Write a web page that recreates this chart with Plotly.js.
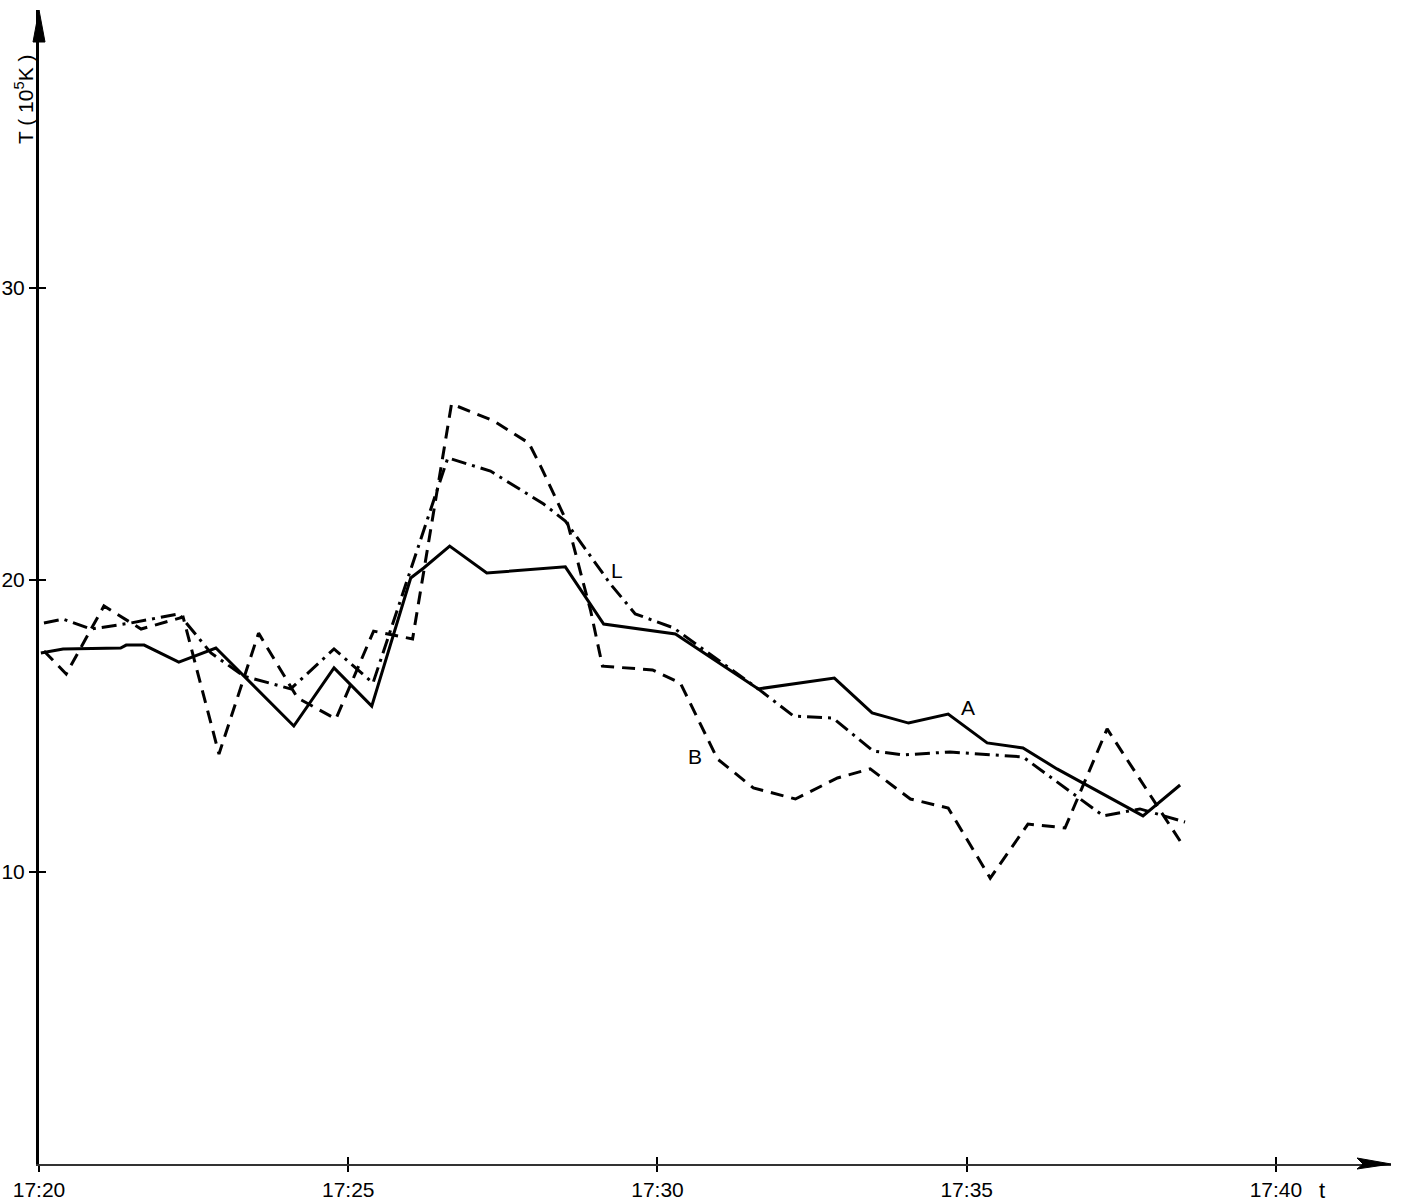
<!DOCTYPE html>
<html>
<head>
<meta charset="utf-8">
<script src="https://cdn.plot.ly/plotly-3.0.1.min.js"></script>
<style>
  html, body { margin: 0; padding: 0; background: #fff; }
  #plot { width: 1403px; height: 1204px; }
</style>
</head>
<body>
<div id="plot"></div>
<script>
// Time axis: minutes after 17:00; temperature in units of 10^5 K.

// Curve A (solid)
const timeA = [20.03, 20.39, 21.32, 21.41, 21.70, 22.26, 22.86, 24.12, 24.77, 25.38, 26.01, 26.22, 26.64, 27.24, 28.51, 29.13, 30.29, 31.63, 32.86, 33.47, 34.06, 34.70, 35.33, 35.91, 36.46, 37.85, 38.45];
const tempA = [17.50, 17.64, 17.67, 17.77, 17.77, 17.19, 17.67, 15.00, 16.99, 15.68, 20.07, 20.41, 21.16, 20.24, 20.45, 18.49, 18.15, 16.27, 16.64, 15.45, 15.10, 15.41, 14.42, 14.25, 13.53, 11.92, 12.98];

// Curve B (dashed)
const timeB = [20.08, 20.44, 21.05, 21.65, 22.33, 22.91, 23.55, 24.18, 24.80, 25.41, 26.04, 26.67, 27.35, 27.92, 28.11, 28.55, 28.92, 29.11, 29.92, 30.37, 30.97, 31.55, 32.23, 32.91, 33.44, 34.09, 34.70, 35.38, 35.99, 36.59, 37.27, 38.45];
const tempB = [17.57, 16.78, 19.11, 18.32, 18.73, 14.04, 18.18, 15.96, 15.24, 18.25, 17.98, 26.03, 25.45, 24.69, 23.90, 21.92, 18.94, 17.05, 16.92, 16.47, 13.87, 12.88, 12.50, 13.22, 13.53, 12.50, 12.19, 9.79, 11.64, 11.51, 14.90, 11.06];

// Curve L (dash-dot)
const timeL = [20.08, 20.39, 20.84, 21.49, 22.26, 22.78, 23.31, 24.07, 24.77, 25.40, 26.61, 27.30, 28.16, 28.51, 29.24, 29.64, 30.26, 31.63, 32.20, 32.84, 33.49, 33.97, 34.73, 35.91, 37.21, 37.80, 38.53];
const tempL = [18.53, 18.66, 18.32, 18.53, 18.84, 17.50, 16.71, 16.27, 17.64, 16.47, 24.18, 23.73, 22.60, 22.02, 19.86, 18.84, 18.36, 16.27, 15.34, 15.27, 14.14, 14.01, 14.11, 13.94, 11.92, 12.16, 11.71];

// Axis ticks
const xTickVals = [20, 25, 30, 35, 40];
const xTickText = ['17:20', '17:25', '17:30', '17:35', '17:40'];
const yTickVals = [10, 20, 30];
const yTickText = ['10', '20', '30'];

// Curve name labels
const curveNames = ['A', 'B', 'L'];
const nameTime = [35.02, 30.60, 29.35];
const nameTemp = [15.62, 13.94, 20.31];

const FONT = 'Liberation Sans, Arial, sans-serif';
const INK = '#000';

const traces = [
  { x: timeA, y: tempA, mode: 'lines', name: 'A',
    line: { color: INK, width: 3 } },
  { x: timeB, y: tempB, mode: 'lines', name: 'B',
    line: { color: INK, width: 3, dash: '13px,8px' } },
  { x: timeL, y: tempL, mode: 'lines', name: 'L',
    line: { color: INK, width: 3, dash: '15px,6px,3px,6px' } },
  // carrier for the overlaid axes that draw the inner halves of the ticks
  { x: [], y: [], xaxis: 'x2', yaxis: 'y2', mode: 'lines', showlegend: false, hoverinfo: 'skip' }
];

const annotations = curveNames.map((n, i) => ({
  x: nameTime[i], y: nameTemp[i], xref: 'x', yref: 'y',
  xanchor: 'center', yanchor: 'middle',
  text: n, showarrow: false, font: { family: FONT, size: 21, color: INK }
}));

annotations.push({
  xref: 'paper', yref: 'paper', x: 0, y: 0.922, xshift: -15,
  xanchor: 'center', yanchor: 'middle',
  text: 'T ( 10<sup>5</sup>K )', textangle: -90, showarrow: false,
  font: { family: FONT, size: 21, color: INK }
});
annotations.push({
  xref: 'x', yref: 'paper', x: 40.74, y: 0, yshift: -26,
  xanchor: 'center', yanchor: 'middle',
  text: 't', showarrow: false, font: { family: FONT, size: 22, color: INK }
});

const layout = {
  width: 1403, height: 1204,
  margin: { l: 39, r: 12, t: 10, b: 40 },
  paper_bgcolor: '#fff', plot_bgcolor: '#fff',
  showlegend: false,
  xaxis: {
    range: [20, 41.86], showgrid: false, zeroline: false,
    showline: true, linecolor: '#333', linewidth: 1.5,
    tickmode: 'array', tickvals: xTickVals, ticktext: xTickText,
    ticks: 'outside', ticklen: 6, tickwidth: 2, tickcolor: INK,
    ticklabelstandoff: 0,
    tickfont: { family: FONT, size: 21, color: INK }
  },
  yaxis: {
    range: [0, 39.52], showgrid: false, zeroline: false,
    showline: true, linecolor: INK, linewidth: 3,
    tickmode: 'array', tickvals: yTickVals, ticktext: yTickText,
    ticks: 'outside', ticklen: 7, tickwidth: 2, tickcolor: INK,
    ticklabelstandoff: 0,
    tickfont: { family: FONT, size: 21, color: INK }
  },
  xaxis2: {
    overlaying: 'x', matches: 'x', anchor: 'y2', showgrid: false, zeroline: false,
    showline: false, tickmode: 'array', tickvals: xTickVals.slice(1),
    ticks: 'inside', ticklen: 7, tickwidth: 2, tickcolor: INK, showticklabels: false
  },
  yaxis2: {
    overlaying: 'y', matches: 'y', anchor: 'x2', side: 'left', showgrid: false, zeroline: false,
    showline: false, tickmode: 'array', tickvals: yTickVals,
    ticks: 'inside', ticklen: 7, tickwidth: 2, tickcolor: INK, showticklabels: false
  },
  shapes: [
    // arrowhead on the temperature axis
    { type: 'path', xref: 'paper', yref: 'paper', xsizemode: 'pixel', ysizemode: 'pixel',
      xanchor: 0, yanchor: 1, path: 'M -6,-32 L 0,0 L 6,-32 Z',
      fillcolor: INK, line: { color: INK, width: 1 } },
    // arrowhead on the time axis
    { type: 'path', xref: 'paper', yref: 'paper', xsizemode: 'pixel', ysizemode: 'pixel',
      xanchor: 1, yanchor: 0, path: 'M -34,-5 L 0,0 L -34,6 L -28,0 Z',
      fillcolor: INK, line: { color: INK, width: 1 } }
  ],
  annotations: annotations
};

Plotly.newPlot('plot', traces, layout, { displayModeBar: false, staticPlot: true });
</script>
</body>
</html>
